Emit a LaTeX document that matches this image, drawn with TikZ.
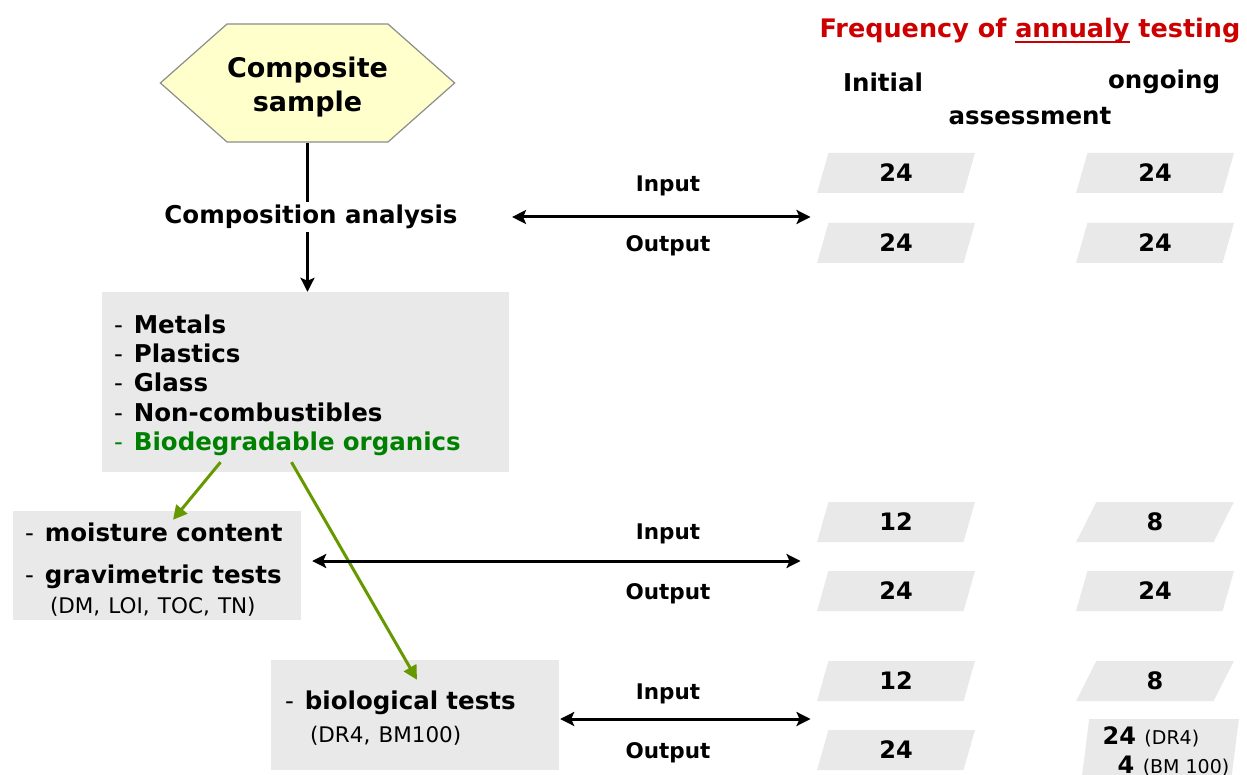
\documentclass[tikz,border=0pt]{standalone}
\usepackage{fontspec}
\setmainfont{DejaVu Sans}
\usetikzlibrary{shapes.geometric, shapes.symbols, arrows.meta, positioning}
\definecolor{ctgray}{HTML}{E9E9E9}
\definecolor{ctyellow}{HTML}{FFFFCC}
\definecolor{ctgreen}{HTML}{008000}
\definecolor{ctolive}{HTML}{669900}
\definecolor{ctred}{HTML}{CC0000}
\newcommand{\dashitem}{-\hspace{0.45em}}
\newcommand{\thickul}[1]{\setbox0\hbox{#1}\rlap{\rule[-5pt]{\wd0}{2pt}}\box0\relax}

\begin{document}
\begin{tikzpicture}[
    x=1pt, y=-1pt,
    sample/.style={signal, signal to=west and east, signal pointer angle=83, draw=black!45, fill=ctyellow, line width=1.2pt, minimum width=289, minimum height=118, inner sep=0pt, align=center, font=\fontsize{27}{34}\selectfont\bfseries},
    stage/.style={font=\fontsize{24.5}{29}\selectfont\bfseries},
    greybox/.style={rectangle, fill=ctgray, align=left, inner xsep=12, font=\fontsize{24.5}{29.3}\selectfont},
    numbox/.style={trapezium, trapezium left angle=81, trapezium right angle=99, trapezium stretches=true, fill=ctgray, minimum width=158, minimum height=40, inner sep=0pt, font=\fontsize{24}{29}\selectfont\bfseries},
    io/.style={font=\fontsize{21.5}{25}\selectfont\bfseries},
    head/.style={font=\fontsize{24.5}{29}\selectfont\bfseries},
    arrow/.style={-{Stealth[length=14pt, width=14pt, inset=3pt]}, line width=3pt},
    biarrow/.style={{Stealth[length=14pt, width=14pt, inset=3pt]}-{Stealth[length=14pt, width=14pt, inset=3pt]}, line width=3pt},
    greenarrow/.style={-{Triangle[length=14pt, width=14pt]}, line width=3pt, draw=ctolive, fill=ctolive}
]
\useasboundingbox (0,0) rectangle (1247,775);

% Header: test frequency
\node[head, text=ctred, font=\fontsize{25.5}{30}\selectfont\bfseries] (freq) at (1030,31) {Frequency of \thickul{annualy} testing};
\node[head] (initial) at (883,82) {Initial};
\node[head] (ongoing) at (1164,82) {ongoing};
\node[head] (assess) at (1030,116) {assessment};

% Left column: sample and analysis
\node[sample] (sample) at (307.5,83) {\rule{0pt}{28pt}Composite\\sample};
\node[stage] (comp) at (311,217) {Composition analysis};
\node[greybox, minimum width=407, minimum height=180, text width=383] (materials) at (305.5,382)
    {\rule{0pt}{25pt}\dashitem\textbf{Metals}\\\dashitem\textbf{Plastics}\\\dashitem\textbf{Glass}\\\dashitem\textbf{Non-combustibles}\\\textcolor{ctgreen}{\dashitem\textbf{Biodegradable organics}}};
\node[greybox, minimum width=288, minimum height=109, text width=264, font=\fontsize{24.5}{30}\selectfont] (moist) at (157,565.5)
    {\rule{0pt}{26pt}\dashitem\textbf{moisture content}\\[12pt]\dashitem\textbf{gravimetric tests}\\\hspace*{25pt}{\fontsize{21.5}{30}\selectfont(DM, LOI, TOC, TN)}};
\node[greybox, minimum width=288, minimum height=110, text width=260, inner xsep=14, font=\fontsize{24.5}{33}\selectfont] (bio) at (415,715)
    {\rule{0pt}{25pt}\dashitem\textbf{biological tests}\\\hspace*{25pt}{\fontsize{21.5}{33}\selectfont(DR4, BM100)}};

% Row 1: composition analysis
\node[numbox] (comp_in_ini) at (896,173) {24};
\node[numbox] (comp_in_ong) at (1155,173) {24};
\node[numbox] (comp_out_ini) at (896,243) {24};
\node[numbox] (comp_out_ong) at (1155,243) {24};
\node[io] (comp_in_lbl) at (668,186) {Input};
\node[io] (comp_out_lbl) at (668,246) {Output};

% Row 2: moisture and gravimetric tests
\node[numbox] (moist_in_ini) at (896,522) {12};
\node[numbox] (moist_in_ong) at (1155,522) {8};
\node[numbox] (moist_out_ini) at (896,591) {24};
\node[numbox] (moist_out_ong) at (1155,591) {24};
\node[io] (moist_in_lbl) at (668,534) {Input};
\node[io] (moist_out_lbl) at (668,594) {Output};

% Row 3: biological tests
\node[numbox] (bio_in_ini) at (896,681) {12};
\node[numbox] (bio_in_ong) at (1155,681) {8};
\node[numbox] (bio_out_ini) at (896,750) {24};
\node[numbox, minimum height=64, align=left] (bio_out_ong) at (1160,751)
    {\hspace*{12pt}24 {\fontsize{19}{28}\selectfont\mdseries (DR4)}\\\hspace*{27pt}4 {\fontsize{19}{28}\selectfont\mdseries (BM 100)}};
\node[io] (bio_in_lbl) at (668,694) {Input};
\node[io] (bio_out_lbl) at (668,753) {Output};

% Vertical flow
\draw[line width=3pt] (sample.south) -- (sample.south |- comp.north);
\draw[arrow] (sample.south |- comp.south) -- (sample.south |- materials.north);

% Green branches
\draw[greenarrow] ([shift={(-85,-10)}]materials.south) -- ([shift={(16,9)}]moist.north);
\draw[greenarrow] ([shift={(-14,-10)}]materials.south) -- ([shift={(2,20)}]bio.north);

% Input / output arrows
\coordinate (moist_mid) at ([yshift=4.5pt]moist.east);
\coordinate (bio_mid) at ([yshift=-4pt]bio.east);
\draw[biarrow, shorten <=51pt, shorten >=12pt] (comp.east) -- (comp_in_ini.west |- comp.east);
\draw[biarrow, shorten <=11pt, shorten >=22pt] (moist_mid) -- (moist_in_ini.west |- moist_mid);
\draw[biarrow, shorten <=1pt, shorten >=12pt] (bio_mid) -- (bio_in_ini.west |- bio_mid);

\end{tikzpicture}
\end{document}
